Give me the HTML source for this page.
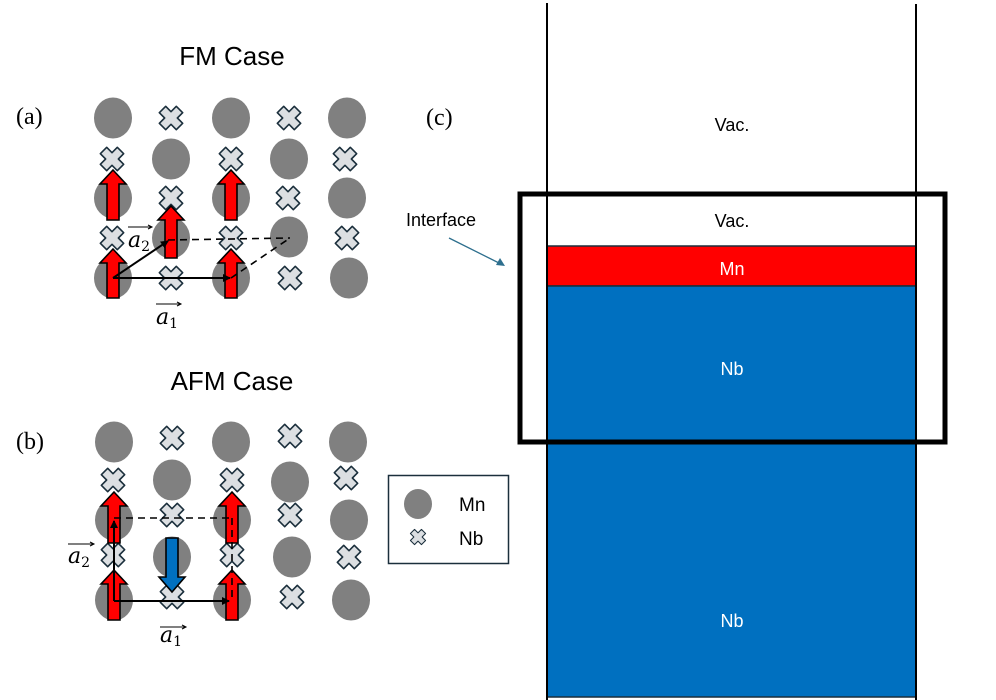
<!DOCTYPE html>
<html><head><meta charset="utf-8"><style>html,body{margin:0;padding:0;background:#fff}svg{display:block}</style></head>
<body>
<svg width="996" height="700" viewBox="0 0 996 700" xmlns="http://www.w3.org/2000/svg">
<defs>
<g id="x"><path d="M-4.5,-12 L4.5,-12 L4.5,-4.5 L12,-4.5 L12,4.5 L4.5,4.5 L4.5,12 L-4.5,12 L-4.5,4.5 L-12,4.5 L-12,-4.5 L-4.5,-4.5 Z" transform="rotate(45)" fill="#dcdfe2" stroke="#1b2f3c" stroke-width="1.6" stroke-linejoin="round"/></g>
<ellipse id="c" rx="19" ry="20.5" fill="#808080"/>
<marker id="ah" markerWidth="8" markerHeight="8" refX="7" refY="4" orient="auto" markerUnits="userSpaceOnUse"><path d="M0,0 L8,4 L0,8 Z" fill="#000"/></marker>
</defs>
<g font-family="Liberation Sans, sans-serif">
<text x="232" y="65" font-size="26" text-anchor="middle">FM Case</text>
<text x="232" y="390" font-size="26" text-anchor="middle">AFM Case</text>
</g>
<g font-family="Liberation Serif, serif" font-size="24">
<text x="16" y="124">(a)</text>
<text x="16" y="449">(b)</text>
<text x="426" y="125">(c)</text>
</g>
<g>
<use href="#c" x="113" y="118"/><use href="#x" x="171" y="118"/><use href="#c" x="231" y="118"/><use href="#x" x="289" y="118"/><use href="#c" x="347" y="118"/>
<use href="#x" x="112" y="159"/><use href="#c" x="171" y="159"/><use href="#x" x="231" y="159"/><use href="#c" x="289" y="159"/><use href="#x" x="345" y="159"/>
<use href="#c" x="113" y="198"/><use href="#x" x="171" y="198"/><use href="#c" x="231" y="198"/><use href="#x" x="288" y="198"/><use href="#c" x="347" y="198"/>
<use href="#x" x="112" y="238"/><use href="#c" x="171" y="238"/><use href="#x" x="231" y="238"/><use href="#c" x="289" y="237"/><use href="#x" x="347" y="238"/>
<use href="#c" x="113" y="278"/><use href="#x" x="171" y="278"/><use href="#c" x="231" y="278"/><use href="#x" x="290" y="278"/><use href="#c" x="349" y="278"/>
</g>
<g fill="#ff0000" stroke="#000" stroke-width="1.6">
<path d="M107,220 L107,184 L100,184 L113,170 L126,184 L119,184 L119,220 Z"/>
<path d="M107,298 L107,263 L100,263 L113,249 L126,263 L119,263 L119,298 Z"/>
<path d="M225,220 L225,184 L218,184 L231,170 L244,184 L237,184 L237,220 Z"/>
<path d="M225,298 L225,263 L218,263 L231,249 L244,263 L237,263 L237,298 Z"/>
<path d="M165,258 L165,220 L158,220 L171,206 L184,220 L177,220 L177,258 Z"/>
</g>
<g stroke="#000" stroke-width="2" fill="none">
<line x1="113" y1="278" x2="230" y2="278" marker-end="url(#ah)"/>
<line x1="113" y1="278" x2="168" y2="241" marker-end="url(#ah)"/>
<line x1="168" y1="240" x2="290" y2="238" stroke-dasharray="7,5" stroke-width="1.6"/>
<line x1="231" y1="278" x2="290" y2="238" stroke-dasharray="7,5" stroke-width="1.6"/>
</g>
<g font-family="DejaVu Serif, Liberation Serif, serif" font-style="italic" font-size="22">
<text x="128" y="247">a<tspan font-size="14" dy="4" font-style="normal">2</tspan></text>
<text x="156" y="324">a<tspan font-size="14" dy="4" font-style="normal">1</tspan></text>
<text x="68" y="563">a<tspan font-size="14" dy="4" font-style="normal">2</tspan></text>
<text x="160" y="642">a<tspan font-size="14" dy="4" font-style="normal">1</tspan></text>
</g>
<g stroke="#000" stroke-width="1" fill="none">
<path d="M128,227 L151,227 M148,225 L152,227 L148,229"/>
<path d="M156,304 L180,304 M177,302 L181,304 L177,306"/>
<path d="M68,544 L93,544 M90,542 L94,544 L90,546"/>
<path d="M160,627 L185,627 M182,625 L186,627 L182,629"/>
</g>
<g>
<use href="#c" x="114" y="442"/><use href="#x" x="172" y="438"/><use href="#c" x="231" y="442"/><use href="#x" x="290" y="436"/><use href="#c" x="348" y="442"/>
<use href="#x" x="113" y="480"/><use href="#c" x="172" y="480"/><use href="#x" x="232" y="480"/><use href="#c" x="290" y="482"/><use href="#x" x="346" y="478"/>
<use href="#c" x="114" y="520"/><use href="#x" x="172" y="515"/><use href="#c" x="232" y="520"/><use href="#x" x="290" y="515"/><use href="#c" x="349" y="520"/>
<use href="#x" x="113" y="555"/><use href="#c" x="172" y="557"/><use href="#x" x="232" y="555"/><use href="#c" x="292" y="557"/><use href="#x" x="349" y="557"/>
<use href="#c" x="114" y="600"/><use href="#x" x="172" y="597"/><use href="#c" x="232" y="600"/><use href="#x" x="292" y="597"/><use href="#c" x="351" y="600"/>
</g>
<g stroke="#000" stroke-width="1.6">
<path fill="#ff0000" d="M108,543 L108,506 L101,506 L114,492 L127,506 L120,506 L120,543 Z"/>
<path fill="#ff0000" d="M108,620 L108,584 L101,584 L114,570 L127,584 L120,584 L120,620 Z"/>
<path fill="#ff0000" d="M226,543 L226,506 L219,506 L232,492 L245,506 L238,506 L238,543 Z"/>
<path fill="#ff0000" d="M226,620 L226,584 L219,584 L232,570 L245,584 L238,584 L238,620 Z"/>
<path fill="#0070c0" d="M166,538 L178,538 L178,577 L185,577 L172,592 L159,577 L166,577 Z"/>
</g>
<g stroke="#000" stroke-width="2" fill="none">
<line x1="114" y1="601" x2="229" y2="601" marker-end="url(#ah)"/>
<line x1="114" y1="601" x2="114" y2="521" marker-end="url(#ah)"/>
<line x1="114" y1="518" x2="232" y2="518" stroke-dasharray="7,5" stroke-width="1.6"/>
<line x1="232" y1="518" x2="232" y2="600" stroke-dasharray="7,5" stroke-width="1.6"/>
</g>
<rect x="388.5" y="475.5" width="120" height="88" fill="#fff" stroke="#1b2f3c" stroke-width="1.5"/>
<ellipse cx="418" cy="504" rx="14" ry="15" fill="#808080"/>
<g transform="translate(418,537) scale(0.65)"><use href="#x"/></g>
<g font-family="Liberation Sans, sans-serif" font-size="19">
<text x="459" y="511">Mn</text>
<text x="459" y="545">Nb</text>
</g>
<rect x="547" y="246" width="369" height="40" fill="#ff0000" stroke="#1b2f3c" stroke-width="1.5"/>
<rect x="547" y="286" width="369" height="411" fill="#0070c0" stroke="#1b2f3c" stroke-width="1.5"/>
<line x1="547" y1="3" x2="547" y2="700" stroke="#000" stroke-width="2"/>
<line x1="916" y1="4" x2="916" y2="700" stroke="#000" stroke-width="2"/>
<rect x="520" y="194" width="425" height="248" fill="none" stroke="#000" stroke-width="5"/>
<g font-family="Liberation Sans, sans-serif" font-size="18" text-anchor="middle">
<text x="732" y="131">Vac.</text>
<text x="732" y="227">Vac.</text>
<text x="732" y="275" fill="#fff">Mn</text>
<text x="732" y="375" fill="#fff">Nb</text>
<text x="732" y="627" fill="#fff">Nb</text>
</g>
<text x="406" y="226" font-family="Liberation Sans, sans-serif" font-size="18">Interface</text>
<line x1="449" y1="238" x2="499" y2="263" stroke="#2e6f8e" stroke-width="1.3"/>
<path d="M505,266 L496,265 L500,258 Z" fill="#2e6f8e"/>
</svg>
</body></html>
